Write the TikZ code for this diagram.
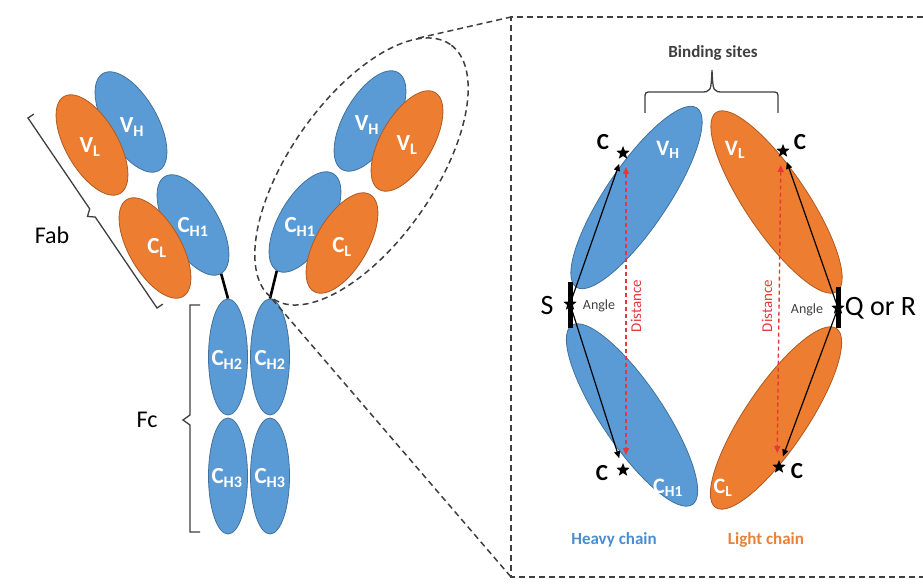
\documentclass[tikz,border=0pt]{standalone}
\usepackage{fontspec}
\setmainfont{Carlito}
\usetikzlibrary{shapes.geometric,arrows.meta}

\definecolor{hblue}{HTML}{5B9BD5}
\definecolor{hblueline}{HTML}{41719C}
\definecolor{lorange}{HTML}{ED7D31}
\definecolor{lorangeline}{HTML}{AE5A21}
\definecolor{htext}{HTML}{4A8DD0}
\definecolor{ltext}{HTML}{E8823A}
\definecolor{distred}{HTML}{E5383B}
\definecolor{linegray}{HTML}{3F3F3F}

\tikzset{
  heavy/.style={ellipse,fill=hblue,draw=hblueline,line width=0.8pt,inner sep=0pt},
  light/.style={ellipse,fill=lorange,draw=lorangeline,line width=0.8pt,inner sep=0pt},
  fabdom/.style={minimum width=112pt,minimum height=52pt},
  fcdom/.style={minimum width=39pt,minimum height=116pt},
  bigdom/.style={minimum width=216pt,minimum height=62pt},
  dom/.style={text=white,inner sep=0pt,font=\fontsize{23}{23}\selectfont\bfseries},
  hinge/.style={line width=2.6pt,black},
  bracket/.style={line width=1.3pt,linegray},
  zoomline/.style={line width=1.5pt,linegray,dash pattern=on 6pt off 4pt},
  site/.style={star,star points=5,star point ratio=2.3,fill=black,inner sep=0pt,minimum size=14pt},
  clab/.style={inner sep=0pt,font=\fontsize{23}{23}\selectfont\bfseries},
  sidelab/.style={inner sep=0pt,font=\fontsize{28}{28}\selectfont},
  anglelab/.style={inner sep=0pt,text=linegray,font=\fontsize{14}{14}\selectfont},
  distlab/.style={inner sep=0pt,text=distred,rotate=90,font=\fontsize{15}{15}\selectfont},
  chainarrow/.style={line width=1.2pt,-{Triangle[length=7pt,width=6pt]}},
  distarrow/.style={line width=1.4pt,distred,dash pattern=on 4pt off 3pt,
    {Triangle[length=7pt,width=6pt]}-{Triangle[length=7pt,width=6pt]}}
}

\begin{document}
\begin{tikzpicture}[x=1pt,y=1pt]
    \useasboundingbox (0,0) rectangle (923,587);

    \node[heavy,fabdom,rotate=-60] (lvh) at (131,465) {};
    \node[light,fabdom,rotate=-60] (lvl) at (92,442) {};
    \node[heavy,fabdom,rotate=-60] (lch1) at (193,362) {};
    \node[light,fabdom,rotate=-60] (lcl) at (155,339) {};
    \node[heavy,fabdom,rotate=60] (rvh) at (370,466) {};
    \node[light,fabdom,rotate=60] (rvl) at (407,446) {};
    \node[heavy,fabdom,rotate=60] (rch1) at (305,365) {};
    \node[light,fabdom,rotate=60] (rcl) at (342,344) {};
    \node[heavy,fcdom] (lch2) at (228,230) {};
    \node[heavy,fcdom] (rch2) at (270,230) {};
    \node[heavy,fcdom] (lch3) at (228,111) {};
    \node[heavy,fcdom] (rch3) at (270,111) {};

    \node[dom] (lvh-t) at (132,460) {V\textsubscript{H}};
    \node[dom] (lvl-t) at (90,440) {V\textsubscript{L}};
    \node[dom] (lch1-t) at (193,360) {C\textsubscript{H1}};
    \node[dom] (lcl-t) at (157,339) {C\textsubscript{L}};
    \node[dom] (rvh-t) at (367,462) {V\textsubscript{H}};
    \node[dom] (rvl-t) at (407,442) {V\textsubscript{L}};
    \node[dom] (rch1-t) at (300,360) {C\textsubscript{H1}};
    \node[dom] (rcl-t) at (342,340) {C\textsubscript{L}};
    \node[dom] (lch2-t) at (227,227) {C\textsubscript{H2}};
    \node[dom] (rch2-t) at (270,227) {C\textsubscript{H2}};
    \node[dom] (lch3-t) at (227,109) {C\textsubscript{H3}};
    \node[dom] (rch3-t) at (270,109) {C\textsubscript{H3}};

    \draw[hinge] (lch1.east) -- (lch2.north);
    \draw[hinge] (rch1.west) -- (rch2.north);

    \draw[bracket] (33.8,472.9) -- (28,469) -- (89.7,378.1) -- (87.5,370.6) -- (95.3,369.9) -- (157,279) -- (162.8,282.9);
    \draw[bracket] (200,282) -- (190,282) -- (190,172) -- (183,167) -- (190,162) -- (190,55) -- (200,55);
    \node[sidelab,font=\fontsize{24}{24}\selectfont] (fab) at (52,352) {Fab};
    \node[sidelab,font=\fontsize{24}{24}\selectfont] (fc) at (147,167) {Fc};

    \node[ellipse,draw=linegray,line width=1.5pt,dash pattern=on 6pt off 4pt,
          rotate=55,minimum width=310pt,minimum height=144pt] (ring) at (361.5,415.5) {};
    \coordinate (boxtl) at (511,570);
    \coordinate (boxbl) at (511,10);
    \draw[zoomline] (923,570) -- (boxtl) -- (boxbl) -- (923,10);
    \draw[zoomline] (ring.12) -- (boxtl);
    \draw[zoomline] (ring.west) -- (boxbl);

    \node[heavy,bigdom,rotate=56] (bvh) at (636.5,389.5) {};
    \node[light,bigdom,rotate=-56] (bvl) at (776.5,385) {};
    \node[heavy,bigdom,rotate=-56] (bch1) at (632,172) {};
    \node[light,bigdom,rotate=56] (bcl) at (776,169) {};
    \node[dom,font=\fontsize{22}{22}\selectfont\bfseries] (bvh-t) at (668,437) {V\textsubscript{H}};
    \node[dom,font=\fontsize{22}{22}\selectfont\bfseries] (bvl-t) at (735,437) {V\textsubscript{L}};
    \node[dom,font=\fontsize{22}{22}\selectfont\bfseries] (bch1-t) at (668,99) {C\textsubscript{H1}};
    \node[dom,font=\fontsize{22}{22}\selectfont\bfseries] (bcl-t) at (723,99) {C\textsubscript{L}};

    \draw[bracket] (645,474) -- (645,488) .. controls (645,495) .. (652,495) -- (700,495)
        .. controls (711,495) .. (712,517) .. controls (713,495) .. (724,495) -- (771,495)
        .. controls (778,495) .. (778,488) -- (778,474);
    \node[inner sep=0pt,text=linegray,font=\fontsize{17}{17}\selectfont\bfseries] (sites) at (713,534) {Binding sites};

    \draw[line width=5pt] (570,305) -- (570,259);
    \draw[line width=5pt] (838,300) -- (838,259);

    \node[site] (s) at (570,283) {};
    \node[site] (qr) at (838,279) {};
    \node[site] (c1) at (623,434) {};
    \node[site] (c2) at (783,436) {};
    \node[site] (c3) at (623,117) {};
    \node[site] (c4) at (779,120) {};

    \draw[chainarrow,shorten >=7pt] (s) -- (c1);
    \draw[chainarrow,shorten >=8pt] (s) -- (c3);
    \draw[chainarrow,shorten >=7pt] (qr) -- (c2);
    \draw[chainarrow,shorten >=7pt] (qr) -- (c4);
    \draw[distarrow,shorten <=14pt,shorten >=15pt] ([xshift=3pt]c1.center) -- ([xshift=3pt]c3.center);
    \draw[distarrow,shorten <=14pt,shorten >=14pt] ([xshift=-2pt]c2.center) -- ([xshift=-2pt]c4.center);

    \node[clab] (c1-t) at (603,445) {C};
    \node[clab] (c2-t) at (800,445) {C};
    \node[clab] (c3-t) at (602,114) {C};
    \node[clab] (c4-t) at (797,116) {C};
    \node[sidelab] (s-t) at (547,281) {S};
    \node[sidelab] (qr-t) at (880.5,279) {Q or R};
    \node[anglelab] (s-a) at (599,281) {Angle};
    \node[anglelab] (qr-a) at (807,277) {Angle};
    \node[distlab] (d1) at (636,281) {Distance};
    \node[distlab] (d2) at (767,281) {Distance};

    \node[inner sep=0pt,text=htext,font=\fontsize{17}{17}\selectfont\bfseries] (heavy-t) at (614,47) {Heavy chain};
    \node[inner sep=0pt,text=ltext,font=\fontsize{17}{17}\selectfont\bfseries] (light-t) at (766,47) {Light chain};
\end{tikzpicture}
\end{document}
